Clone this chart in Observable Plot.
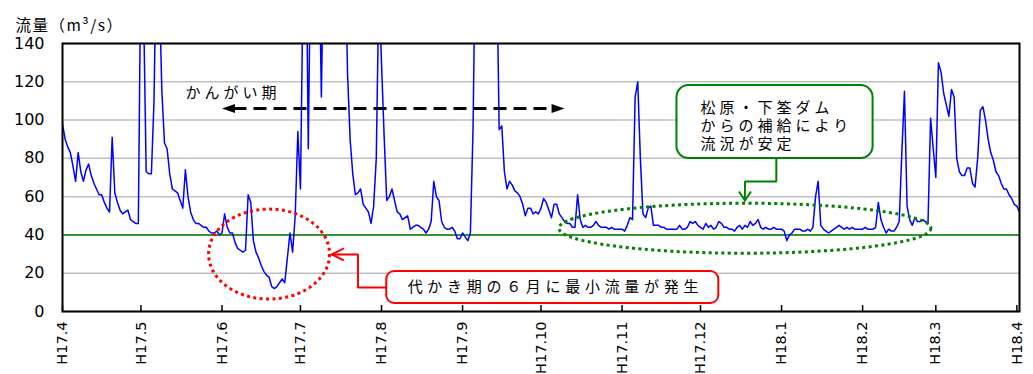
<!DOCTYPE html>
<html><head><meta charset="utf-8">
<script src="https://cdn.jsdelivr.net/npm/d3@7"></script>
<script src="https://cdn.jsdelivr.net/npm/@observablehq/plot@0.6"></script>
<style>
body{margin:0;background:#fff;}
#chart svg{display:block;}
</style></head>
<body><div id="chart"></div>
<script>
// Daily flow (m3/s), one array per month
const flowApr05 = [98, 90, 86, 83, 76, 68, 83, 73, 68, 74, 77, 71, 67, 64, 61, 61, 57, 54, 52, 91, 62, 57, 53, 51, 52, 53, 48, 47, 46, 46];
const flowMay05 = [190, 160, 73, 72, 72, 110, 200, 170, 115, 88, 85, 72, 64, 63, 62, 58, 54, 74, 60, 52, 48, 46, 46, 45, 44, 44, 42, 41, 41, 42, 40];
const flowJun05 = [41, 51, 44, 41, 41, 36, 33, 32, 31, 32, 61, 57, 37, 31, 28, 24, 21, 19, 18, 13, 12, 13, 15, 17, 15, 28, 41, 31, 50, 94];
const flowJul05 = [64, 170, 220, 85, 200, 220, 220, 200, 112, 200, 220, 230, 220, 200, 220, 200, 200, 200, 125, 90, 72, 61, 62, 64, 56, 54, 52, 46, 55, 80, 170];
const flowAug05 = [130, 92, 58, 60, 64, 58, 52, 51, 48, 49, 50, 43, 44, 45, 45, 44, 43, 41, 43, 47, 68, 60, 58, 47, 44, 43, 43, 44, 42, 38, 38];
const flowSep05 = [41, 39, 37, 41, 95, 200, 230, 230, 220, 230, 230, 220, 210, 190, 95, 97, 73, 64, 68, 66, 63, 62, 60, 56, 50, 54, 54, 51, 52, 51];
const flowOct05 = [54, 59, 57, 53, 49, 56, 56, 51, 49, 47, 46, 46, 44, 44, 61, 48, 44, 45, 44, 44, 45, 47, 45, 44, 44, 44, 43, 44, 43, 43, 43];
const flowNov05 = [43, 42, 45, 49, 48, 112, 120, 80, 51, 49, 54, 55, 45, 45, 45, 44, 44, 43, 43, 43, 43, 43, 45, 43, 43, 44, 47, 46, 47, 45];
const flowDec05 = [44, 43, 46, 44, 45, 43, 44, 47, 46, 44, 44, 43, 43, 42, 44, 45, 43, 45, 44, 47, 45, 46, 48, 44, 43, 44, 43, 43, 44, 43, 43];
const flowJan06 = [43, 42, 37, 40, 41, 43, 43, 43, 42, 42, 43, 42, 44, 60, 68, 45, 43, 42, 41, 42, 43, 44, 45, 44, 43, 44, 43, 44, 43, 43, 43];
const flowFeb06 = [43, 44, 43, 43, 43, 44, 57, 48, 44, 41, 43, 42, 42, 44, 47, 83, 115, 55, 48, 45, 49, 47, 47, 48, 47, 46, 101, 85];
const flowMar06 = [70, 130, 125, 114, 108, 102, 116, 112, 80, 73, 71, 71, 75, 75, 67, 65, 80, 105, 107, 100, 90, 83, 79, 73, 71, 67, 64, 64, 61, 59, 56];
const flowApr06 = [55, 52];

const monthStarts = ["2005-04-01","2005-05-01","2005-06-01","2005-07-01","2005-08-01","2005-09-01","2005-10-01","2005-11-01","2005-12-01","2006-01-01","2006-02-01","2006-03-01","2006-04-01"];
const tickLabels = ["H17.4","H17.5","H17.6","H17.7","H17.8","H17.9","H17.10","H17.11","H17.12","H18.1","H18.2","H18.3","H18.4"];
const yTicks = [0, 20, 40, 60, 80, 100, 120, 140];
const baseFlow = [40];
const yTitle = "流量（m³/s）";

// annotations
const irrigation = {from: "2005-06-01", to: "2005-10-10", y: 106, label: "かんがい期", labelAt: "2005-05-18", labelY: 114};
const lowNote = {
  text: "代かき期の６月に最小流量が発生", textAt: "2005-08-11", textY: 12.5,
  box: ["2005-08-03", "2005-12-08", 4.2, 20.9],
  ring: {x: "2005-06-19", y: 30, rx: 60.5, ry: 45},
  leader: [["2005-08-03", 12.5], ["2005-07-23", 12.5], ["2005-07-23", 29.8], ["2005-07-13", 29.8]]
};
const damNote = {
  lines: ["松原・下筌ダム", "からの補給により", "流況が安定"], textAt: "2005-12-01", textY: 97.2,
  box: ["2005-11-22", "2006-02-05", 79.9, 118.1],
  ring: {x: "2005-12-18", y: 43.5, rx: 186, ry: 25},
  leader: [["2005-12-30", 79.9], ["2005-12-30", 67.9], ["2005-12-18", 67.9], ["2005-12-18", 58]]
};

const monthly = [flowApr05, flowMay05, flowJun05, flowJul05, flowAug05, flowSep05, flowOct05, flowNov05, flowDec05, flowJan06, flowFeb06, flowMar06, flowApr06];
const flow = [];
monthly.forEach((arr, m) => {
  arr.forEach((v, d) => flow.push({date: new Date(Date.UTC(2005, 3 + m, d + 1)), value: v}));
});
const monthDates = monthStarts.map(s => new Date(s));
const labelMap = new Map(monthDates.map((d, i) => [+d, tickLabels[i]]));
const D = s => new Date(s);

const ellipse = (rx, ry) => ({draw(ctx) {
  const k = 0.5523;
  ctx.moveTo(rx, 0);
  ctx.bezierCurveTo(rx, ry * k, rx * k, ry, 0, ry);
  ctx.bezierCurveTo(-rx * k, ry, -rx, ry * k, -rx, 0);
  ctx.bezierCurveTo(-rx, -ry * k, -rx * k, -ry, 0, -ry);
  ctx.bezierCurveTo(rx * k, -ry, rx, -ry * k, rx, 0);
  ctx.closePath();
}});
const triLeft = {draw(ctx) { ctx.moveTo(0, 0); ctx.lineTo(13, -4.5); ctx.lineTo(13, 4.5); ctx.closePath(); }};
const triRight = {draw(ctx) { ctx.moveTo(0, 0); ctx.lineTo(-13, -4.5); ctx.lineTo(-13, 4.5); ctx.closePath(); }};
const chevLeft = {draw(ctx) { ctx.moveTo(12, -6); ctx.lineTo(0, 0); ctx.lineTo(12, 6); }};
const chevDown = {draw(ctx) { ctx.moveTo(-6, -9); ctx.lineTo(0, 0); ctx.lineTo(6, -9); }};

const chart = Plot.plot({
  width: 1033, height: 374,
  marginLeft: 62, marginRight: 14, marginTop: 43, marginBottom: 63,
  style: {background: "#fff", fontFamily: "'DejaVu Sans', sans-serif", fontSize: "16px", overflow: "visible"},
  x: {type: "utc", domain: [D("2005-04-01"), D("2006-04-02")]},
  y: {domain: [0, 140]},
  marks: [
    Plot.gridY({ticks: yTicks, stroke: "#c0c0c0", strokeOpacity: 1, strokeWidth: 1.5}),
    Plot.ruleY(baseFlow, {stroke: "#008000", strokeWidth: 1.6}),
    Plot.line(flow, {x: "date", y: "value", stroke: "#0000ff", strokeWidth: 1.5, clip: true}),
    Plot.frame({stroke: "#000", strokeWidth: 2}),
    Plot.ruleX(monthDates, {insetTop: 262, stroke: "#000", strokeWidth: 1.5}),
    Plot.axisY({ticks: yTicks, tickSize: 0, tickPadding: 18, fontSize: 16, label: null}),
    Plot.axisX({ticks: monthDates, tickFormat: d => labelMap.get(+d), tickRotate: -90, tickSize: 0, tickPadding: 10, fontSize: 14.5, label: null}),
    // y title
    Plot.text([yTitle], {frameAnchor: "top-left", text: d => d, dx: -47, dy: -17, textAnchor: "start", lineAnchor: "middle", fontSize: 15.5, fill: "#000"}),
    // irrigation period arrow
    Plot.ruleY([irrigation], {y: "y", x1: d => D(d.from), x2: d => D(d.to), insetLeft: 12, insetRight: 12, stroke: "#000", strokeWidth: 3, strokeDasharray: "13,7"}),
    Plot.dot([irrigation], {x: d => D(d.from), y: "y", symbol: triLeft, fill: "#000", stroke: "none"}),
    Plot.dot([irrigation], {x: d => D(d.to), y: "y", symbol: triRight, fill: "#000", stroke: "none"}),
    Plot.text([irrigation], {x: d => D(d.labelAt), y: "labelY", text: "label", textAnchor: "start", fontSize: 15, fill: "#000"}),
    // low flow note (red)
    Plot.dot([lowNote.ring], {x: d => D(d.x), y: "y", symbol: ellipse(lowNote.ring.rx, lowNote.ring.ry), fill: "none", stroke: "#ff0000", strokeWidth: 3, strokeDasharray: "3,3.4"}),
    Plot.line(lowNote.leader, {x: d => D(d[0]), y: d => d[1], stroke: "#ff0000", strokeWidth: 2, strokeLinejoin: "miter"}),
    Plot.dot([lowNote.leader[3]], {x: d => D(d[0]), y: d => d[1], symbol: chevLeft, fill: "none", stroke: "#ff0000", strokeWidth: 2}),
    Plot.rect([lowNote.box], {x1: d => D(d[0]), x2: d => D(d[1]), y1: d => d[2], y2: d => d[3], rx: 8, fill: "#fff", stroke: "#ff0000", strokeWidth: 2}),
    Plot.text([lowNote], {x: d => D(d.textAt), y: "textY", text: "text", textAnchor: "start", fontSize: 15, fill: "#000"}),
    // dam note (green)
    Plot.dot([damNote.ring], {x: d => D(d.x), y: "y", symbol: ellipse(damNote.ring.rx, damNote.ring.ry), fill: "none", stroke: "#008000", strokeWidth: 3, strokeDasharray: "3,3.4"}),
    Plot.line(damNote.leader, {x: d => D(d[0]), y: d => d[1], stroke: "#008000", strokeWidth: 2, strokeLinejoin: "miter"}),
    Plot.dot([damNote.leader[3]], {x: d => D(d[0]), y: d => d[1], symbol: chevDown, fill: "none", stroke: "#008000", strokeWidth: 2}),
    Plot.rect([damNote.box], {x1: d => D(d[0]), x2: d => D(d[1]), y1: d => d[2], y2: d => d[3], rx: 12, fill: "#fff", stroke: "#008000", strokeWidth: 2}),
    Plot.text([damNote], {x: d => D(d.textAt), y: "textY", text: d => d.lines.join("\n"), textAnchor: "start", lineHeight: 1.2, fontSize: 15, fill: "#000"})
  ]
});
// Japanese text styling: CJK font and the wide letter spacing of the original
const jp = /[\u3040-\u30ff\u4e00-\u9fff\uff00-\uffef]/;
d3.select(chart).selectAll("text").each(function() {
  const t = this.textContent;
  if (!jp.test(t)) return;
  let ls = "4px";
  if (t.startsWith("代")) ls = "4.7px";
  if (t.startsWith("流量")) ls = "1.5px";
  this.style.fontFamily = "'Noto Sans CJK JP', sans-serif";
  this.style.letterSpacing = ls;
});
document.getElementById("chart").appendChild(chart);
</script>
</body></html>
